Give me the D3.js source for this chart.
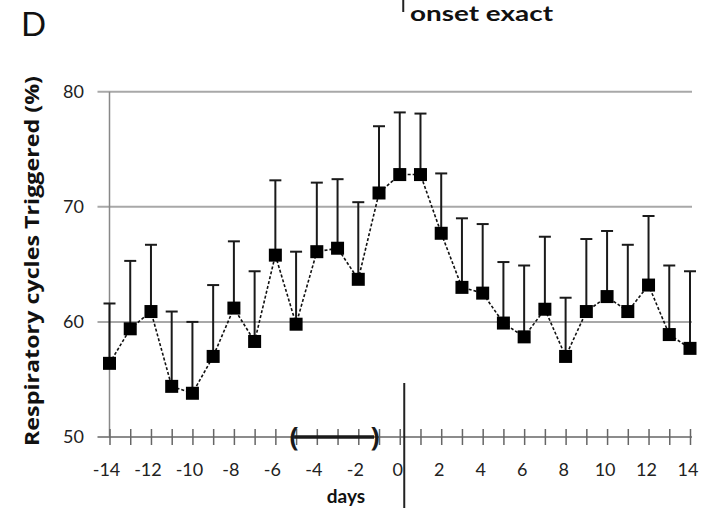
<!DOCTYPE html>
<html>
<head>
<meta charset="utf-8">
<script src="https://cdn.jsdelivr.net/npm/d3@7"></script>
<style>
  html, body { margin: 0; padding: 0; background: #fff; }
  svg { display: block; font-family: Lato, "Open Sans", sans-serif; }
</style>
</head>
<body>
<div id="chart"></div>
<script>
// days relative to onset
const days = [-14, -13, -12, -11, -10, -9, -8, -7, -6, -5, -4, -3, -2, -1, 0,
  1, 2, 3, 4, 5, 6, 7, 8, 9, 10, 11, 12, 13, 14];

// mean % of respiratory cycles triggered
const meanValues = [56.4, 59.4, 60.9, 54.4, 53.8, 57.0, 61.2, 58.3, 65.8, 59.8,
  66.1, 66.4, 63.7, 71.2, 72.8, 72.8, 67.7, 63.0, 62.5, 59.9, 58.7, 61.1, 57.0,
  60.9, 62.2, 60.9, 63.2, 58.9, 57.7];

// top of the error bars (mean + SD)
const upperValues = [61.6, 65.3, 66.7, 60.9, 60.0, 63.2, 67.0, 64.4, 72.3, 66.1,
  72.1, 72.4, 70.4, 77.0, 78.2, 78.1, 72.9, 69.0, 68.5, 65.2, 64.9, 67.4, 62.1,
  67.2, 67.9, 66.7, 69.2, 64.9, 64.4];

const yTicks = [50, 60, 70, 80];
const xTickLabels = [-14, -12, -10, -8, -6, -4, -2, 0, 2, 4, 6, 8, 10, 12, 14];
const bracketRange = [-5, -1];

const config = {
  width: 702,
  height: 508,
  left: 109.5,
  right: 690,
  top: 91.7,
  bottom: 437,
};

const svg = d3
  .select("#chart")
  .append("svg")
  .attr("width", config.width)
  .attr("height", config.height);

const x = d3.scaleLinear().domain([-14, 14]).range([config.left, config.right]);
const y = d3.scaleLinear().domain([50, 80]).range([config.bottom, config.top]);

const points = days.map((d, i) => ({ day: d, mean: meanValues[i], upper: upperValues[i] }));

// horizontal grid lines (and the 50 baseline)
svg
  .append("g")
  .selectAll("line")
  .data(yTicks)
  .enter()
  .append("line")
  .attr("x1", config.left - 12)
  .attr("x2", config.right + 2)
  .attr("y1", (d) => y(d))
  .attr("y2", (d) => y(d))
  .attr("stroke", (d) => (d === 50 ? "#666" : "#a8a8a8"))
  .attr("stroke-width", (d) => (d === 50 ? 1.5 : 2));

// y axis labels
svg
  .append("g")
  .selectAll("text")
  .data(yTicks)
  .enter()
  .append("text")
  .attr("x", 84)
  .attr("y", (d) => y(d) + 6)
  .attr("text-anchor", "end")
  .attr("font-size", 18)
  .attr("fill", "#222")
  .text((d) => d);

// y axis line
svg
  .append("line")
  .attr("x1", x(-14))
  .attr("x2", x(-14))
  .attr("y1", y(80))
  .attr("y2", y(50))
  .attr("stroke", "#888")
  .attr("stroke-width", 1.5);

// x axis: crossing ticks every day, labels every 2 days
const xAxis = d3
  .axisBottom(x)
  .tickValues(days)
  .tickSizeInner(8)
  .tickSizeOuter(0)
  .tickFormat("");

const xAxisG = svg
  .append("g")
  .attr("transform", "translate(0," + y(50) + ")")
  .call(xAxis);
xAxisG.select(".domain").remove();
xAxisG
  .selectAll(".tick line")
  .attr("y1", -8)
  .attr("y2", 8)
  .attr("stroke", "#666")
  .attr("stroke-width", 1.5);

svg
  .append("g")
  .selectAll("text")
  .data(xTickLabels)
  .enter()
  .append("text")
  .attr("x", (d) => x(d) - (d < 0 ? 3 : 2))
  .attr("y", 476)
  .attr("text-anchor", "middle")
  .attr("font-size", 18)
  .attr("fill", "#222")
  .text((d) => d);

// bracket on the axis for the pre-onset window
svg
  .append("line")
  .attr("x1", x(bracketRange[0]) - 2)
  .attr("x2", x(bracketRange[1]) - 5)
  .attr("y1", y(50))
  .attr("y2", y(50))
  .attr("stroke", "#1a1a1a")
  .attr("stroke-width", 3.5);

svg
  .selectAll("text.bracket")
  .data([
    { day: bracketRange[0], dx: -2, t: "(" },
    { day: bracketRange[1], dx: -4, t: ")" },
  ])
  .enter()
  .append("text")
  .attr("class", "bracket")
  .attr("x", (d) => x(d.day) + d.dx)
  .attr("y", y(50) + 9)
  .attr("text-anchor", "middle")
  .attr("font-family", "'Open Sans', sans-serif")
  .attr("font-size", 27)
  .attr("font-weight", "bold")
  .attr("fill", "#1a1a1a")
  .text((d) => d.t);

// onset marker line
svg
  .append("line")
  .attr("x1", x(0) + 4.5)
  .attr("x2", x(0) + 4.5)
  .attr("y1", 383)
  .attr("y2", config.height)
  .attr("stroke", "#222")
  .attr("stroke-width", 2);

svg
  .append("line")
  .attr("x1", x(0) + 3.5)
  .attr("x2", x(0) + 3.5)
  .attr("y1", 0)
  .attr("y2", 12)
  .attr("stroke", "#222")
  .attr("stroke-width", 2);

// error bars (upper side only)
const bars = svg.append("g");
bars
  .selectAll("line.stem")
  .data(points)
  .enter()
  .append("line")
  .attr("class", "stem")
  .attr("x1", (d) => x(d.day))
  .attr("x2", (d) => x(d.day))
  .attr("y1", (d) => y(d.mean))
  .attr("y2", (d) => y(d.upper))
  .attr("stroke", "#1a1a1a")
  .attr("stroke-width", 2);

bars
  .selectAll("line.cap")
  .data(points)
  .enter()
  .append("line")
  .attr("class", "cap")
  .attr("x1", (d) => x(d.day) - 6)
  .attr("x2", (d) => x(d.day) + 6)
  .attr("y1", (d) => y(d.upper))
  .attr("y2", (d) => y(d.upper))
  .attr("stroke", "#1a1a1a")
  .attr("stroke-width", 2);

// dashed connecting line
const line = d3
  .line()
  .x((d) => x(d.day))
  .y((d) => y(d.mean));

svg
  .append("path")
  .datum(points)
  .attr("d", line)
  .attr("fill", "none")
  .attr("stroke", "#111")
  .attr("stroke-width", 1.6)
  .attr("stroke-dasharray", "3,2");

// square markers
const size = 13;
svg
  .append("g")
  .selectAll("rect")
  .data(points)
  .enter()
  .append("rect")
  .attr("x", (d) => x(d.day) - size / 2)
  .attr("y", (d) => y(d.mean) - size / 2)
  .attr("width", size)
  .attr("height", size)
  .attr("fill", "#000");

// panel letter and title
svg
  .append("text")
  .attr("x", 21)
  .attr("y", 36)
  .attr("font-size", 33)
  .attr("fill", "#111")
  .text("D");

svg
  .append("text")
  .attr("x", 410)
  .attr("y", 21)
  .attr("font-size", 20)
  .attr("font-weight", "bold")
  .attr("fill", "#111")
  .attr("textLength", 143)
  .attr("lengthAdjust", "spacingAndGlyphs")
  .text("onset exact");

// axis titles
svg
  .append("text")
  .attr("transform", "translate(39,261) rotate(-90)")
  .attr("text-anchor", "middle")
  .attr("font-family", "'Open Sans', sans-serif")
  .attr("font-size", 20)
  .attr("font-weight", "bold")
  .attr("fill", "#111")
  .attr("textLength", 370)
  .attr("lengthAdjust", "spacingAndGlyphs")
  .text("Respiratory cycles Triggered (%)");

svg
  .append("text")
  .attr("x", 346)
  .attr("y", 503)
  .attr("text-anchor", "middle")
  .attr("font-size", 19)
  .attr("font-weight", "bold")
  .attr("fill", "#111")
  .text("days");
</script>
</body>
</html>
